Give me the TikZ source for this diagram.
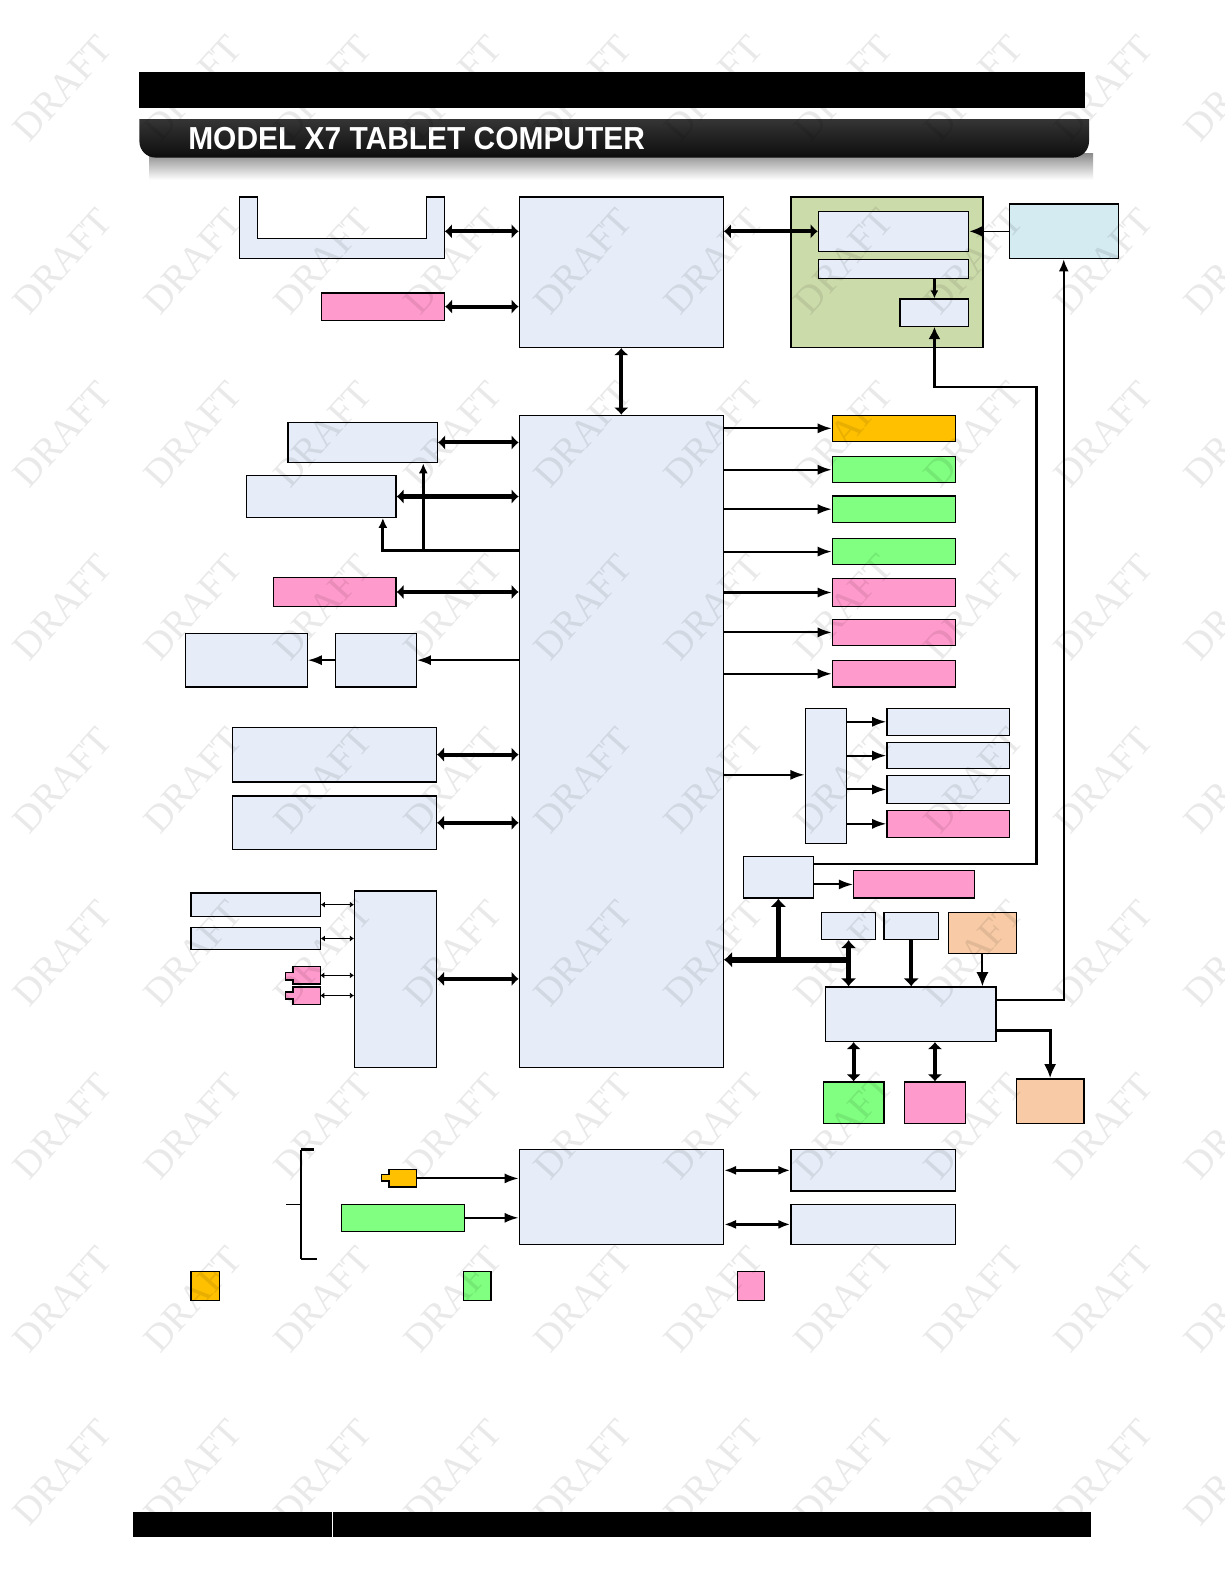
\documentclass[tikz,border=0pt]{standalone}
\usepackage{fontspec}
\setmainfont{Liberation Sans}
\newfontfamily\wmfont{Liberation Serif}
\usetikzlibrary{arrows.meta,fit}
\definecolor{lb}{HTML}{E6EDF8}
\definecolor{pk}{HTML}{FF9ACC}
\definecolor{gr}{HTML}{80FF80}
\definecolor{og}{HTML}{FFC000}
\definecolor{pe}{HTML}{F8CBA6}
\definecolor{ol}{HTML}{CCDBAA}
\definecolor{cy}{HTML}{D4EBF1}
\tikzset{
  box/.style={draw=black, line width=0.6pt, fill=lb, inner sep=0pt},
  pkbox/.style={box, fill=pk},
  grbox/.style={box, fill=gr},
  ogbox/.style={box, fill=og},
  pebox/.style={box, fill=pe},
  dbl/.style={line width=2pt, {Latex[length=3.5pt,width=7.5pt]}-{Latex[length=3.5pt,width=7.5pt]}},
  meddbl/.style={line width=1.5pt, {Latex[length=6pt,width=4.5pt]}-{Latex[length=6pt,width=4.5pt]}},
  tinydbl/.style={line width=0.8pt, {Latex[length=2pt,width=3pt]}-{Latex[length=2pt,width=3pt]}},
  thinarr/.style={line width=1pt, -{Latex[length=7pt,width=5pt]}},
  medarr/.style={line width=1.4pt, -{Latex[length=5pt,width=4.5pt]}},
  busarr/.style={line width=3pt, -{Latex[length=4pt,width=8pt]}},
  thickarr/.style={line width=2.5pt, -{Latex[length=4pt,width=8pt]}},
  bigarr/.style={line width=1pt, -{Latex[length=7pt,width=6pt]}},
  wirearr/.style={line width=1.2pt, -{Latex[length=6pt,width=6pt]}},
  wm/.style={font=\wmfont\fontsize{19pt}{19pt}\selectfont, text=black, text opacity=0.085, rotate=48}
}
\begin{document}
\begin{tikzpicture}[x=0.5pt,y=-0.5pt]
\useasboundingbox (0,0) rectangle (1212,1568);
\fill[white] (0,0) rectangle (1212,1568);
% header
\fill[black] (138,71) rectangle (1074,107);
\shade[top color=black!45, bottom color=white] (148,152) rectangle (1082,178);
\begin{scope}
\clip (130,118) rectangle (1090,160);
\shade[top color=black!72, bottom color=black!95, rounded corners=8pt] (138,100) rectangle (1078,156);
\end{scope}
\node[anchor=base west, inner sep=0pt, text=white] (title) at (186,147.5)
  {\resizebox{226pt}{11pt}{\bfseries MODEL X7 TABLET COMPUTER}};
% footer
\fill[black] (132,1497) rectangle (1080,1521);
\draw[white, line width=0.6pt] (329,1497) -- (329,1521);

% top section
\node[fit={(237,195)(440,256)}, inner sep=0pt] (U) {};
\draw[fill=lb, line width=0.6pt] (237,195) -- (255,195) -- (255,236) -- (422,236) -- (422,195) -- (440,195) -- (440,256) -- (237,256) -- cycle;
\node[pkbox, fit={(318,290)(440,317)}] (Pt) {};
\node[box, fit={(514,195)(716,344)}] (A) {};
\node[box, fill=ol, fit={(783,195)(973,344)}] (Gbox) {};
\node[box, fit={(810,209)(959,249)}] (G1) {};
\node[box, fit={(810,257)(959,276)}] (G2) {};
\node[box, fit={(891,296)(959,323)}] (G3) {};
\node[box, fill=cy, fit={(999,202)(1107,256)}] (Cy) {};

% central
\node[box, fit={(514,411)(716,1057)}] (B) {};

% left
\node[box, fit={(285,418)(433,458)}] (L1) {};
\node[box, fit={(244,471)(392,512)}] (L2) {};
\node[pkbox, fit={(271,572)(392,600)}] (L3) {};
\node[box, fit={(332,627)(412,680)}] (L4) {};
\node[box, fit={(184,627)(304,680)}] (L5) {};
\node[box, fit={(230,720)(432,774)}] (L6) {};
\node[box, fit={(230,788)(432,841)}] (L7) {};
\node[box, fit={(351,882)(432,1057)}] (L8) {};
\node[box, fit={(189,884)(317,907)}] (L9) {};
\node[box, fit={(189,918)(317,940)}] (L10) {};
\draw[fill=pk, line width=0.6pt] (317,957) -- (290,957) -- (290,963) -- (283,963) -- (283,970) -- (290,970) -- (290,974) -- (317,974) -- cycle;
\draw[fill=pk, line width=0.6pt] (317,977) -- (290,977) -- (290,982) -- (283,982) -- (283,989) -- (290,989) -- (290,994) -- (317,994) -- cycle;
\coordinate (J1) at (317,965.5);
\coordinate (J2) at (317,985.5);

% right
\node[ogbox, fit={(824,411)(946,437)}] (R1) {};
\node[grbox, fit={(824,452)(946,478)}] (R2) {};
\node[grbox, fit={(824,491)(946,517)}] (R3) {};
\node[grbox, fit={(824,533)(946,559)}] (R4) {};
\node[pkbox, fit={(824,573)(946,600)}] (R5) {};
\node[pkbox, fit={(824,613)(946,639)}] (R6) {};
\node[pkbox, fit={(824,654)(946,680)}] (R7) {};
\node[box, fit={(797,701)(838,835)}] (M) {};
\node[box, fit={(878,701)(999,728)}] (M1) {};
\node[box, fit={(878,735)(999,761)}] (M2) {};
\node[box, fit={(878,768)(999,795)}] (M3) {};
\node[pkbox, fit={(878,802)(999,829)}] (M4) {};
\node[box, fit={(736,848)(805,889)}] (S) {};
\node[pkbox, fit={(845,862)(965,889)}] (Sp) {};
\node[box, fit={(813,903)(867,930)}] (T1) {};
\node[box, fit={(875,903)(929,930)}] (T2) {};
\node[pebox, fit={(939,903)(1006,944)}] (P1) {};
\node[box, fit={(817,977)(986,1031)}] (C) {};
\node[grbox, fit={(815,1071)(875,1112)}] (Gb) {};
\node[pkbox, fit={(895,1071)(956,1112)}] (Pb) {};
\node[pebox, fit={(1006,1068)(1073,1112)}] (P2) {};

% bottom
\node[box, fit={(514,1138)(716,1232)}] (D) {};
\node[box, fit={(783,1138)(946,1179)}] (E1) {};
\node[box, fit={(783,1192)(946,1232)}] (E2) {};
\node[grbox, fit={(338,1192)(460,1219)}] (Gs) {};
\draw[fill=og, line width=0.6pt] (412,1158) -- (385,1158) -- (385,1163) -- (378,1163) -- (378,1169) -- (385,1169) -- (385,1175) -- (412,1175) -- cycle;
\coordinate (J3) at (412,1166.5);
\draw[line width=0.6pt] (298,1138) -- (298,1246);
\draw[line width=1.2pt] (297.7,1138) -- (311,1138);
\draw[line width=1.2pt] (297.7,1246) -- (314,1246);
\draw[line width=0.6pt] (298,1192) -- (283,1192);
% legend
\node[ogbox, fit={(189,1259)(217,1287)}] (K1) {};
\node[grbox, fit={(459,1259)(486,1287)}] (K2) {};
\node[pkbox, fit={(730,1259)(757,1287)}] (K3) {};

% connectors top
\draw[dbl] (U.east|-0,229) -- (A.west|-0,229);
\draw[dbl] (Pt.east) -- (A.west|-Pt.east);
\draw[dbl] (A.south) -- (B.north);
\draw[dbl] (A.east|-0,229) -- (G1.west|-0,229);
\draw[line width=0.8pt, -{Latex[length=7pt,width=6pt]}] (Cy.west) -- (G1.east|-Cy.west);
\draw[line width=1.2pt, -{Latex[length=4pt,width=4pt]}] (G3.north|-G2.south) -- (G3.north);
\draw[wirearr] (S.east|-0,855) -| (1026,383) -| (G3.south);
\draw[line width=1.2pt, -{Latex[length=6pt,width=5pt]}] (C.east|-0,990) -| (Cy.south);

% connectors left
\draw[dbl] (L1.east) -- (B.west|-L1.east);
\draw[dbl] (L2.east) -- (B.west|-L2.east);
\draw[medarr] (B.west|-0,545) -| (L2.south -| 379,0);
\draw[medarr] (B.west|-0,545) -| (L1.south -| 419,0);
\draw[dbl] (L3.east) -- (B.west|-L3.east);
\draw[thinarr] (B.west|-L4.east) -- (L4.east);
\draw[thinarr] (L4.west) -- (L5.east);
\draw[dbl] (L6.east) -- (B.west|-L6.east);
\draw[dbl] (L7.east) -- (B.west|-L7.east);
\draw[dbl] (L8.east|-0,969) -- (B.west|-0,969);
\draw[tinydbl] (L9.east) -- (L8.west|-L9.east);
\draw[tinydbl] (L10.east) -- (L8.west|-L10.east);
\draw[tinydbl] (J1) -- (L8.west|-J1);
\draw[tinydbl] (J2) -- (L8.west|-J2);

% connectors right
\foreach \r in {R1,R2,R3,R4,R5,R6,R7}{
  \draw[thinarr] (B.east|-\r.west) -- (\r.west);
}
\draw[thinarr] (B.east|-0,767) -- (M.west|-0,767);
\foreach \r in {M1,M2,M3,M4}{
  \draw[thinarr] (M.east|-\r.west) -- (\r.west);
}
\draw[thinarr] (S.east|-Sp.west) -- (Sp.west);
\draw[busarr] (T1.south|-0,950) -- (B.east|-0,950);
\draw[thickarr] (S.south|-0,950) -- (S.south);
\draw[line width=2.5pt, {Latex[length=4pt,width=8pt]}-{Latex[length=4pt,width=8pt]}] (T1.south) -- (C.north-|T1.south);
\draw[line width=2pt, -{Latex[length=4pt,width=8pt]}] (T2.south) -- (C.north-|T2.south);
\draw[bigarr] (P1.south) -- (C.north-|P1.south);
\draw[dbl] (Gb.north|-C.south) -- (Gb.north);
\draw[dbl] (Pb.north|-C.south) -- (Pb.north);
\draw[line width=1.5pt, -{Latex[length=7pt,width=6pt]}] (C.east|-0,1020) -| (P2.north);

% connectors bottom
\draw[thinarr] (J3) -- (D.west|-J3);
\draw[thinarr] (Gs.east) -- (D.west|-Gs.east);
\draw[meddbl] (D.east|-E1.west) -- (E1.west);
\draw[meddbl] (D.east|-E2.west) -- (E2.west);

% watermark
\foreach \i in {0,...,9}{
  \foreach \j in {0,...,8}{
    \node[wm] (wm-\i-\j) at ({62+128.8*\i},{87+171.3*\j}) {DRAFT};
  }
}
\end{tikzpicture}
\end{document}
